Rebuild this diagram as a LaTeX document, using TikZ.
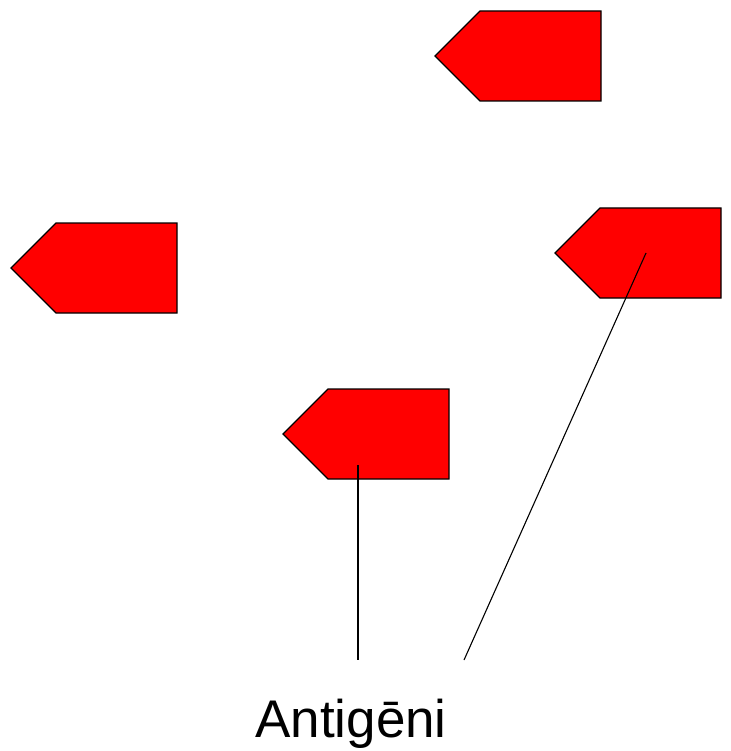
\documentclass[tikz,border=0pt]{standalone}
\usepackage{fontspec}
\setmainfont{Liberation Sans}
\begin{document}
\begin{tikzpicture}[x=1pt,y=-1pt,
  antigen/.style={draw=black,fill=red,line width=1.3pt,line join=miter},
  pointer/.style={draw=black,line width=1.1pt}]
\useasboundingbox (0,0) rectangle (730,751);
\newcommand{\antigen}[3]{%
  \draw[antigen] (#1,#2) -- ++(45,-45) -- ++(121,0) -- ++(0,90) -- ++(-121,0) -- cycle;
  \coordinate (#3) at (#1,#2);}
\antigen{435}{56}{a1}
\antigen{11}{268}{a2}
\antigen{555}{253}{a3}
\antigen{283}{434}{a4}
\coordinate (p4) at (358,465);
\coordinate (p3) at (646,253);
\coordinate (e4) at (358,660);
\coordinate (e3) at (464,660);
\draw[pointer] (p4) -- (e4);
\draw[pointer] (p3) -- (e3);
\node[font=\fontsize{53}{60}\selectfont, anchor=base, inner sep=0pt] (lbl) at (351,737) {Antigēni};
\end{tikzpicture}
\end{document}
